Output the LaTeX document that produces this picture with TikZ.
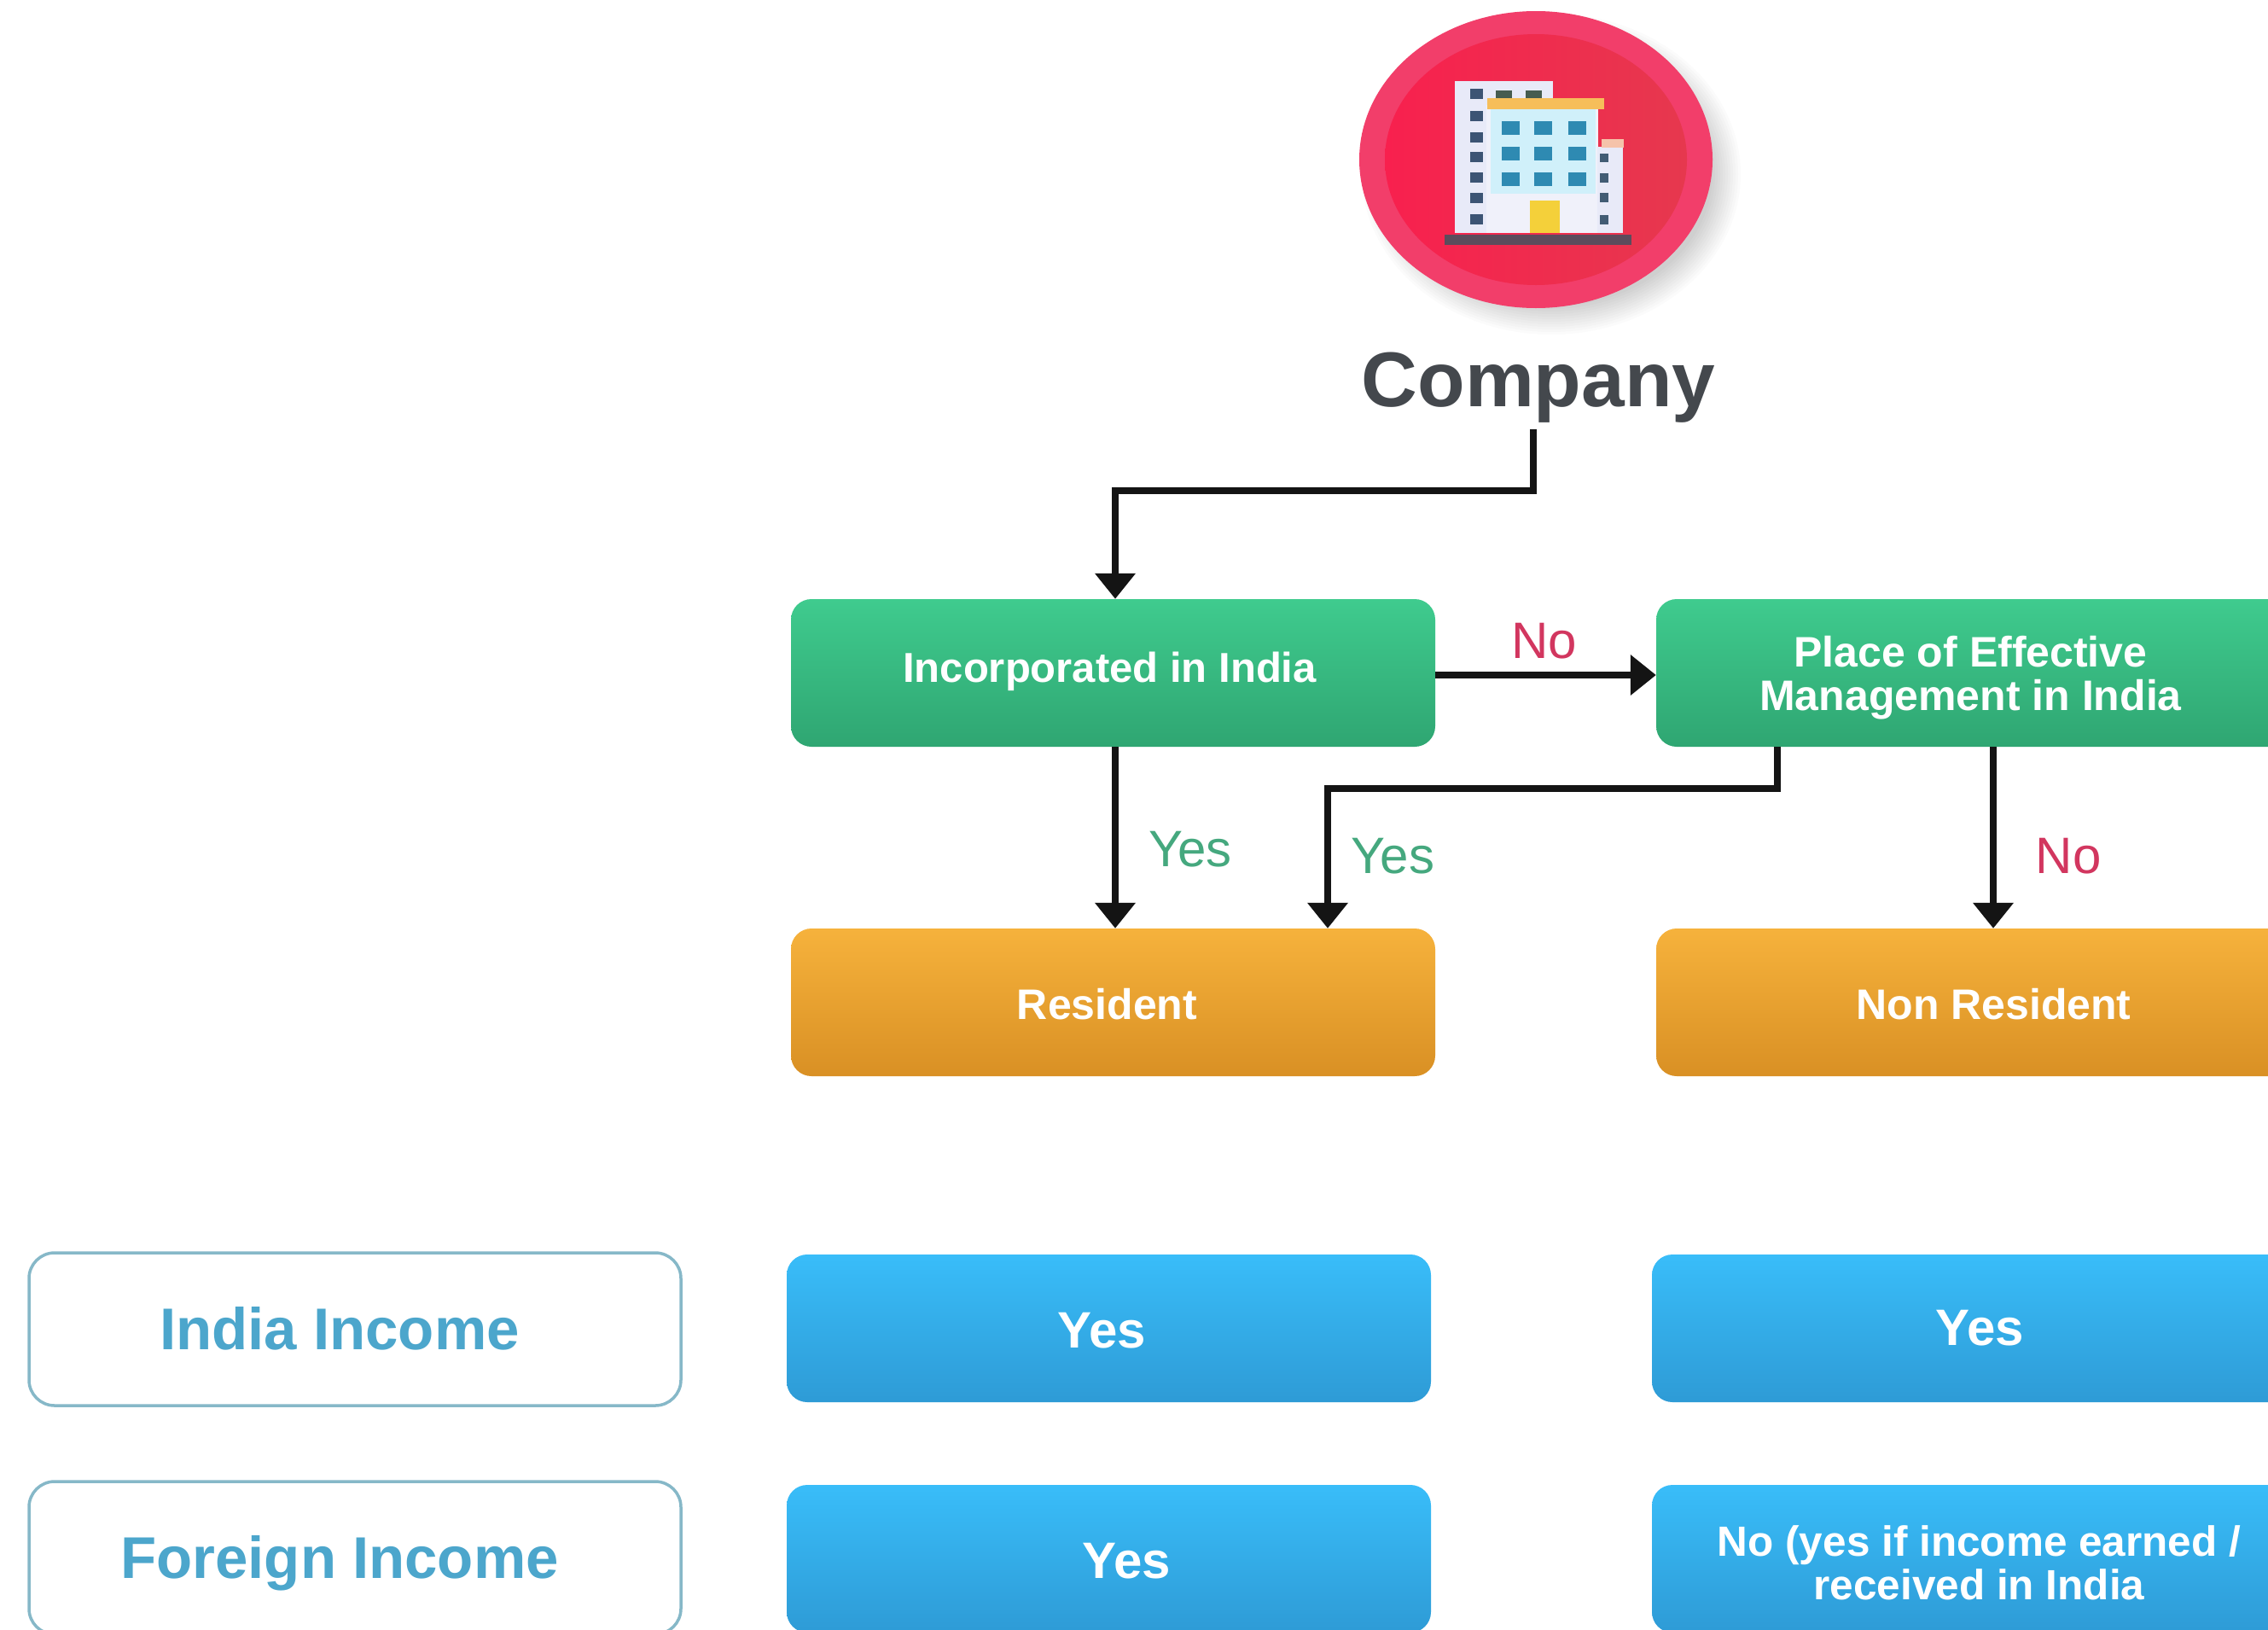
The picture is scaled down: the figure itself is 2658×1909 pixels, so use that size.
\documentclass[tikz,border=0pt]{standalone}
\usepackage{fontspec}
\setmainfont{Liberation Sans}
\usetikzlibrary{arrows.meta,calc}
\definecolor{greenT}{HTML}{3FCB8E}
\definecolor{greenB}{HTML}{2FA672}
\definecolor{orangeT}{HTML}{F6B23C}
\definecolor{orangeB}{HTML}{D99024}
\definecolor{blueT}{HTML}{39BDF9}
\definecolor{blueB}{HTML}{2E9BD6}
\definecolor{edgeB}{HTML}{86B8C8}
\definecolor{incomeC}{HTML}{4CA6CC}
\definecolor{darkT}{HTML}{44484D}
\definecolor{yesC}{HTML}{45A87E}
\definecolor{noC}{HTML}{D2365F}
\definecolor{discO}{RGB}{242,62,106}
\definecolor{discL}{RGB}{248,32,78}
\definecolor{discR}{RGB}{230,56,78}
\definecolor{bTower}{RGB}{232,234,248}
\definecolor{bMid}{RGB}{240,241,250}
\definecolor{bGlass}{RGB}{208,240,250}
\definecolor{bRoof}{RGB}{246,190,90}
\definecolor{bCap}{RGB}{245,195,170}
\definecolor{bBase}{RGB}{92,76,92}
\definecolor{bDoor}{RGB}{244,208,58}
\definecolor{bWinA}{RGB}{60,84,116}
\definecolor{bWinB}{RGB}{70,92,80}
\definecolor{bWinC}{RGB}{46,138,178}
\definecolor{bWinD}{RGB}{66,92,116}
\tikzset{
  x=1pt,y=-1pt,
  box/.style={rectangle,rounded corners=24pt,minimum width=755pt,minimum height=173pt,inner sep=0pt,draw=none},
  greenbox/.style={box,top color=greenT,bottom color=greenB},
  orangebox/.style={box,top color=orangeT,bottom color=orangeB},
  bluebox/.style={box,top color=blueT,bottom color=blueB},
  incomebox/.style={rectangle,rounded corners=30pt,minimum width=764pt,minimum height=179pt,inner sep=0pt,draw=edgeB,line width=3.5pt,fill=white},
  txt/.style={text=white,font=\bfseries\fontsize{#1}{51}\selectfont,align=center,inner sep=0pt},
  income/.style={text=incomeC,font=\bfseries\fontsize{#1}{70}\selectfont,inner sep=0pt},
  conn/.style={draw=black!92,line width=8.5pt,-{Triangle[width=46pt,length=30pt]}},
  flag/.style={font=\fontsize{60}{70}\selectfont,inner sep=0pt}
}
\begin{document}
\begin{tikzpicture}
\path[use as bounding box] (0,0) rectangle (2658,1909);
\clip (0,0) rectangle (2658,1909);
\fill[white] (0,0) rectangle (2658,1909);

% shadow of the icon
\foreach \r in {0,...,11}{
  \fill[black,opacity=0.014] (1818,204) ellipse ({222-\r*3} and {188-\r*3});
}
% icon disc
\fill[discO] (1800,187) ellipse (207 and 174);
\shade[left color=discL,right color=discR] (1800,187) ellipse (177 and 147);

% building, in the coordinates of a 3x crop
\begin{scope}[shift={(1550,0)},x=0.3333pt,y=-0.3333pt]
  \fill[bTower] (465,285) rectangle (810,820);
  \fill[bMid] (575,370) rectangle (970,820);
  \fill[bGlass] (590,385) rectangle (960,680);
  \fill[bRoof] (580,345) rectangle (990,385);
  \fill[bTower] (965,515) rectangle (1055,820);
  \fill[bCap] (980,490) rectangle (1060,520);
  \fill[bBase] (430,825) rectangle (1085,860);
  \fill[bDoor] (730,705) rectangle (835,820);
  \foreach \yy in {330,408,482,552,625,695,772}
    \fill[bWinA] (520,\yy-18) rectangle (565,\yy+18);
  \foreach \xx in {610,715}
    \fill[bWinB] (\xx,318) rectangle (\xx+55,345);
  \foreach \xx in {630,745,865}
    \foreach \yy in {450,540,630}
      \fill[bWinC] (\xx,\yy-25) rectangle (\xx+62,\yy+25);
  \foreach \yy in {555,625,695,772}
    \fill[bWinD] (975,\yy-16) rectangle (1005,\yy+16);
\end{scope}

\node[text=darkT,font=\bfseries\fontsize{91}{100}\selectfont,inner sep=0pt] (company) at (1803,454) {Company};

\node[greenbox,label={[txt=49,xshift=-4pt,yshift=2pt]center:Incorporated in India}] (inc) at (1304.5,788.5) {};
\node[greenbox,label={[txt=50,xshift=-9pt,yshift=-6pt]center:Place of Effective\\Management in India}] (poem) at (2318.5,788.5) {};
\node[orangebox,label={[txt=50,xshift=-7pt,yshift=-2pt]center:Resident}] (res) at (1304.5,1174.5) {};
\node[orangebox,label={[txt=50,xshift=18pt,yshift=-2pt]center:Non Resident}] (nonres) at (2318.5,1174.5) {};

\node[incomebox,label={[income=69,xshift=-18pt,yshift=1pt]center:India Income}] (india) at (416,1557.5) {};
\node[incomebox,label={[income=69,xshift=-18pt,yshift=-6pt]center:Foreign Income}] (foreign) at (416,1825.5) {};

\node[bluebox,label={[txt=60,xshift=-8pt,yshift=-3pt]center:Yes}] (b1) at (1299.5,1556.5) {};
\node[bluebox,label={[txt=60,xshift=7pt,yshift=0pt]center:Yes}] (b2) at (2313.5,1556.5) {};
\node[bluebox,label={[txt=60,xshift=21pt,yshift=-3pt]center:Yes}] (b3) at (1299.5,1826.5) {};
\node[bluebox,label={[txt=49.5,xshift=6pt,yshift=-5pt]center:No (yes if income earned /\\received in India}] (b4) at (2313.5,1826.5) {};

% connectors
\coordinate (bendA) at (1797,575);
\coordinate (bendB) at (1556,924);
\coordinate (trunk) at (1307,0);
\coordinate (rowNo) at (0,791);
\coordinate (dropA) at (2083,0);
\coordinate (dropB) at (2336,0);
\draw[conn] ([xshift=-6pt,yshift=-8pt]company.south) -- (bendA) -| (inc.north -| trunk);
\draw[conn] (inc.east |- rowNo) -- (poem.west |- rowNo);
\draw[conn] (inc.south -| trunk) -- (res.north -| trunk);
\draw[conn] (poem.south -| dropA) |- (bendB) -- (res.north -| bendB);
\draw[conn] (poem.south -| dropB) -- (nonres.north -| dropB);

\node[flag,text=noC] (l1) at (1810,751) {No};
\node[flag,text=yesC] (l2) at (1395,995) {Yes};
\node[flag,text=yesC] (l3) at (1632,1003) {Yes};
\node[flag,text=noC] (l4) at (2424,1003) {No};
\end{tikzpicture}
\end{document}
